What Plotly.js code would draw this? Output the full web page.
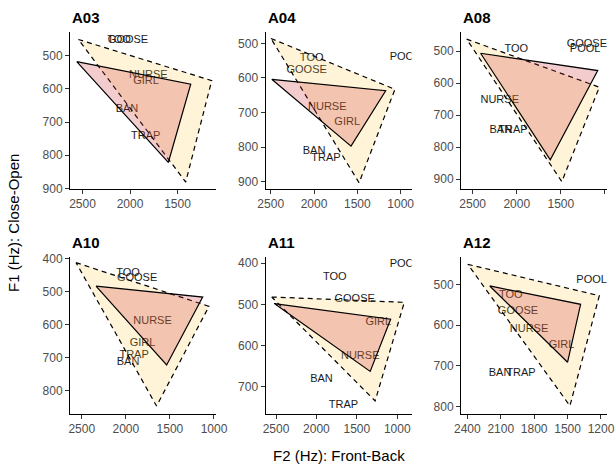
<!DOCTYPE html>
<html>
<head>
<meta charset="utf-8">
<script src="https://cdn.plot.ly/plotly-3.0.1.min.js"></script>
<style>html,body{margin:0;padding:0;background:#fff;}#chart{width:616px;height:464px;}</style>
</head>
<body>
<div id="chart"></div>
<script>
// ---- data (F2 = front-back, F1 = close-open) ----
const speakers = ['A03', 'A04', 'A08', 'A10', 'A11', 'A12'];

const A03_outerF2 = [2544, 1140, 1414], A03_outerF1 = [451, 575, 881];
const A03_innerF2 = [2561, 1361, 1597], A03_innerF1 = [518, 586, 822];
const A03_labels = ['TOO', 'GOOSE', 'NURSE', 'GIRL', 'BAN', 'TRAP'];
const A03_labelF2 = [2116, 2021, 1807, 1832, 2032, 1835];
const A03_labelF1 = [453, 453, 558, 578, 662, 744];

const A04_outerF2 = [2497, 1066, 1480], A04_outerF1 = [486, 633, 903];
const A04_innerF2 = [2488, 1173, 1573], A04_innerF1 = [604, 637, 797];
const A04_labels = ['TOO', 'GOOSE', 'POOL', 'NURSE', 'GIRL', 'BAN', 'TRAP'];
const A04_labelF2 = [2027, 2085, 950, 1847, 1617, 2000, 1862];
const A04_labelF1 = [543, 579, 540, 685, 727, 813, 832];

const A08_outerF2 = [2568, 1064, 1489], A08_outerF1 = [463, 613, 908];
const A08_innerF2 = [2410, 1082, 1620], A08_innerF1 = [507, 561, 840];
const A08_labels = ['TOO', 'GOOSE', 'POOL', 'NURSE', 'BAN', 'TRAP'];
const A08_labelF2 = [2005, 1206, 1225, 2193, 2181, 2043];
const A08_labelF1 = [495, 479, 495, 655, 749, 749];

const A10_outerF2 = [2565, 1057, 1651], A10_outerF1 = [413, 545, 846];
const A10_innerF2 = [2338, 1128, 1537], A10_innerF1 = [484, 517, 722];
const A10_labels = ['TOO', 'GOOSE', 'NURSE', 'GIRL', 'TRAP', 'BAN'];
const A10_labelF2 = [1974, 1872, 1697, 1810, 1906, 1974];
const A10_labelF1 = [444, 459, 589, 655, 692, 714];

const A11_outerF2 = [2553, 913, 1274], A11_outerF1 = [482, 495, 735];
const A11_innerF2 = [2521, 1082, 1335], A11_innerF1 = [498, 536, 663];
const A11_labels = ['TOO', 'GOOSE', 'POOL', 'GIRL', 'NURSE', 'BAN', 'TRAP'];
const A11_labelF2 = [1774, 1527, 905, 1235, 1458, 1938, 1666];
const A11_labelF1 = [435, 487, 402, 543, 625, 681, 746];

const A12_outerF2 = [2396, 1215, 1479], A12_outerF1 = [451, 528, 798];
const A12_innerF2 = [2199, 1383, 1500], A12_innerF1 = [504, 549, 691];
const A12_labels = ['POOL', 'TOO', 'GOOSE', 'NURSE', 'GIRL', 'BAN', 'TRAP'];
const A12_labelF2 = [1284, 2010, 1945, 1846, 1554, 2106, 1918];
const A12_labelF1 = [489, 528, 565, 610, 649, 717, 717];

const panelData = {
  A03: [A03_outerF2, A03_outerF1, A03_innerF2, A03_innerF1, A03_labels, A03_labelF2, A03_labelF1],
  A04: [A04_outerF2, A04_outerF1, A04_innerF2, A04_innerF1, A04_labels, A04_labelF2, A04_labelF1],
  A08: [A08_outerF2, A08_outerF1, A08_innerF2, A08_innerF1, A08_labels, A08_labelF2, A08_labelF1],
  A10: [A10_outerF2, A10_outerF1, A10_innerF2, A10_innerF1, A10_labels, A10_labelF2, A10_labelF1],
  A11: [A11_outerF2, A11_outerF1, A11_innerF2, A11_innerF1, A11_labels, A11_labelF2, A11_labelF1],
  A12: [A12_outerF2, A12_outerF1, A12_innerF2, A12_innerF1, A12_labels, A12_labelF2, A12_labelF1]
};

// ---- layout geometry ----
const W = 616, H = 464;
const colPx = [[70, 216], [265.5, 411.5], [461, 607]];
const rowPx = [[32, 189], [257, 414]];
const xRanges = [[2632, 1095], [2560, 875], [2632, 977], [2633, 977], [2630, 824], [2457, 1146]];
const yRanges = [[902, 428.5], [921, 467.3], [931, 440.6], [870, 396], [766.7, 384.7], [818, 433]];
const xDticks = [500, 500, 500, 500, 500, 300];

const FONT = '"Liberation Sans", Arial, Helvetica, sans-serif';
const traces = [];
const layout = {
  width: W, height: H,
  margin: {l: 0, r: 0, t: 0, b: 0},
  paper_bgcolor: '#fff', plot_bgcolor: 'rgba(0,0,0,0)',
  showlegend: false,
  font: {family: FONT},
  annotations: []
};

speakers.forEach((sp, i) => {
  const [oX, oY, iX, iY, labs, lX, lY] = panelData[sp];
  const r = Math.floor(i / 3), c = i % 3;
  const n = i === 0 ? '' : String(i + 1);
  const xa = 'x' + n, ya = 'y' + n;

  traces.push({
    type: 'scatter', mode: 'text', x: lX, y: lY, text: labs,
    textposition: 'middle center', cliponaxis: true,
    textfont: {family: FONT, size: 11, color: '#1a1a1a'},
    xaxis: xa, yaxis: ya, hoverinfo: 'skip'
  });
  traces.push({
    type: 'scatter', mode: 'lines',
    x: oX.concat([oX[0]]), y: oY.concat([oY[0]]),
    fill: 'toself', fillcolor: 'rgba(255,200,60,0.2)',
    line: {color: '#000', width: 1.2, dash: '5px,4px'},
    xaxis: xa, yaxis: ya, hoverinfo: 'skip'
  });
  traces.push({
    type: 'scatter', mode: 'lines',
    x: iX.concat([iX[0]]), y: iY.concat([iY[0]]),
    fill: 'toself', fillcolor: 'rgba(205,45,50,0.24)',
    line: {color: '#000', width: 1.2},
    xaxis: xa, yaxis: ya, hoverinfo: 'skip'
  });

  const common = {
    showgrid: false, zeroline: false, showline: true,
    linecolor: '#000', linewidth: 1,
    ticks: 'outside', ticklen: 4, tickwidth: 1, tickcolor: '#333',
    tickfont: {family: FONT, size: 12, color: '#4d4d4d'}
  };
  layout['xaxis' + n] = Object.assign({}, common, {
    domain: [colPx[c][0] / W, colPx[c][1] / W],
    range: xRanges[i], tick0: 0, dtick: xDticks[i],
    anchor: ya
  });
  layout['yaxis' + n] = Object.assign({}, common, {
    domain: [1 - rowPx[r][1] / H, 1 - rowPx[r][0] / H],
    range: yRanges[i], tick0: 0, dtick: 100,
    anchor: xa
  });
  layout.annotations.push({
    text: '<b>' + sp + '</b>', xref: 'paper', yref: 'paper',
    x: colPx[c][0] / W, xanchor: 'left',
    y: 1 - (rowPx[r][0] - 15) / H, yanchor: 'middle',
    showarrow: false, font: {family: FONT, size: 15, color: '#000'}
  });
});

layout.annotations.push({
  text: 'F2 (Hz): Front-Back', xref: 'paper', yref: 'paper',
  x: (70 + 607) / 2 / W, xanchor: 'center', y: 1 - 455 / H, yanchor: 'middle',
  showarrow: false, font: {family: FONT, size: 15, color: '#000'}
});
layout.annotations.push({
  text: 'F1 (Hz): Close-Open', xref: 'paper', yref: 'paper',
  x: 13 / W, xanchor: 'center', y: 1 - 223 / H, yanchor: 'middle', textangle: -90,
  showarrow: false, font: {family: FONT, size: 15, color: '#000'}
});

Plotly.newPlot('chart', traces, layout, {staticPlot: true, displayModeBar: false});
</script>
</body>
</html>
